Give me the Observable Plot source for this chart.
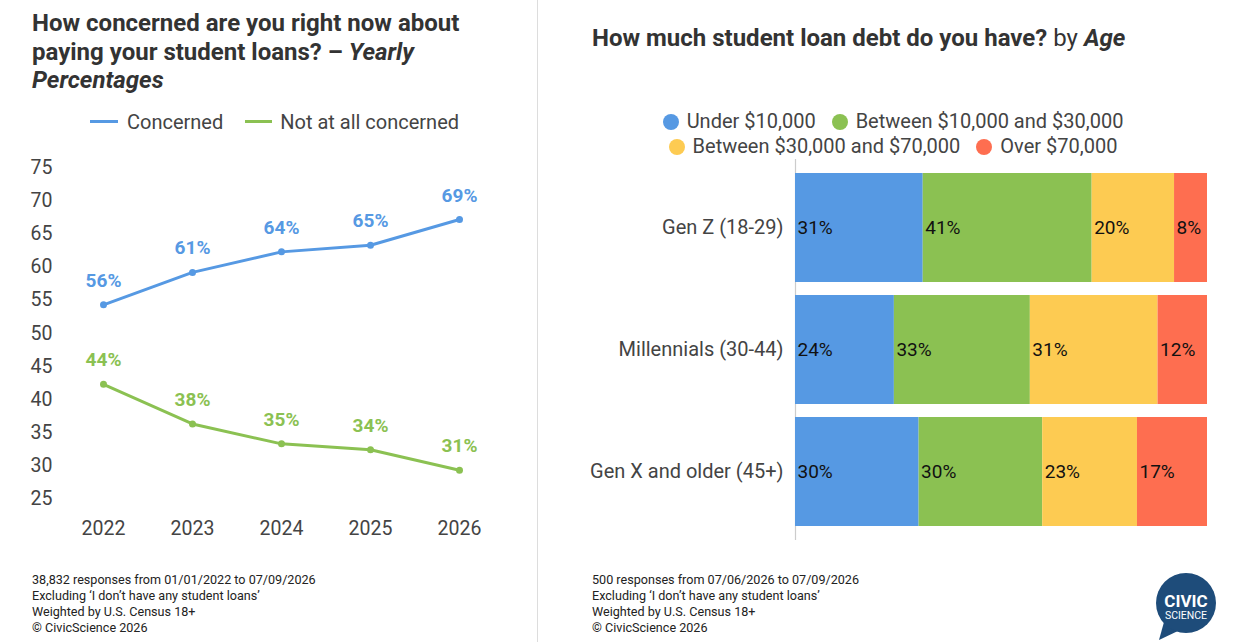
<!DOCTYPE html>
<html>
<head>
<meta charset="utf-8">
<script src="https://cdn.jsdelivr.net/npm/d3@7"></script>
<script src="https://cdn.jsdelivr.net/npm/@observablehq/plot@0.6"></script>
<style>
  html, body { margin: 0; padding: 0; background: #fff; }
  body { width: 1236px; height: 642px; position: relative; overflow: hidden; font-family: Roboto, "Noto Sans", sans-serif; }
  .abs { position: absolute; }
  .title { font-weight: 700; font-size: 24px; line-height: 28.5px; color: #333; }
  .legend { font-size: 20px; color: #444; white-space: nowrap; }
  .footer { font-size: 12.6px; line-height: 16px; color: #222; white-space: nowrap; }
  .sw { display: inline-block; width: 16px; height: 16px; border-radius: 50%; vertical-align: -2px; margin-right: 8px; }
  .item { display: inline-block; margin: 0 8px; }
</style>
</head>
<body>
<script>
// ---- Left chart data ----
const years = ["2022", "2023", "2024", "2025", "2026"];
const concerned = [54.3, 59.2, 62.3, 63.3, 67.2];
const notConcerned = [42.3, 36.3, 33.3, 32.4, 29.3];
const concernedLabels = ["56%", "61%", "64%", "65%", "69%"];
const notConcernedLabels = ["44%", "38%", "35%", "34%", "31%"];
const yTicks = [25, 30, 35, 40, 45, 50, 55, 60, 65, 70, 75];
const lineSeries = ["Concerned", "Not at all concerned"];

// ---- Right chart data ----
const groups = ["Gen Z (18-29)", "Millennials (30-44)", "Gen X and older (45+)"];
const debtCategories = ["Under $10,000", "Between $10,000 and $30,000", "Between $30,000 and $70,000", "Over $70,000"];
const under10k = [31, 24, 30];
const between10and30 = [41, 33, 30];
const between30and70 = [20, 31, 23];
const over70k = [8, 12, 17];

const BLUE = "#5699E3", GREEN = "#8BC152", YELLOW = "#FDCB52", RED = "#FE6E50";
const lineColors = [BLUE, GREEN];
const barColors = [BLUE, GREEN, YELLOW, RED];

// ---- Static layout ----
document.body.insertAdjacentHTML("beforeend", `
  <div class="abs title" style="left:32px;top:9px;">How concerned are you right now about<br>paying your student loans? – <i>Yearly<br>Percentages</i></div>
  <div class="abs title" style="left:592px;top:24px;white-space:nowrap;">How much student loan debt do you have? <span style="font-weight:400">by</span> <i>Age</i></div>
  <div class="abs" style="left:537px;top:0;width:1px;height:642px;background:#ddd;"></div>
  <div class="abs legend" style="left:90px;top:110px;">
    <span style="display:inline-block;width:28px;height:3px;background:${BLUE};vertical-align:6px;margin-right:9px;"></span>${lineSeries[0]}
    <span style="display:inline-block;width:27px;height:3px;background:${GREEN};vertical-align:6px;margin-left:17px;margin-right:8px;"></span>${lineSeries[1]}
  </div>
  <div class="abs legend" style="left:580px;top:109px;width:626px;text-align:center;line-height:25px;">
    <span class="item"><span class="sw" style="background:${barColors[0]}"></span>${debtCategories[0]}</span><span class="item"><span class="sw" style="background:${barColors[1]}"></span>${debtCategories[1]}</span><br>
    <span class="item"><span class="sw" style="background:${barColors[2]}"></span>${debtCategories[2]}</span><span class="item"><span class="sw" style="background:${barColors[3]}"></span>${debtCategories[3]}</span>
  </div>
  <div class="abs footer" style="left:32px;top:572px;">38,832 responses from 01/01/2022 to 07/09/2026<br>Excluding ‘I don’t have any student loans’<br>Weighted by U.S. Census 18+<br>© CivicScience 2026</div>
  <div class="abs footer" style="left:592px;top:572px;">500 responses from 07/06/2026 to 07/09/2026<br>Excluding ‘I don’t have any student loans’<br>Weighted by U.S. Census 18+<br>© CivicScience 2026</div>
  <svg class="abs" style="left:1150px;top:570px;" width="75" height="72" viewBox="0 0 75 72">
    <path d="M14 52 L9 70 L30 60 Z" fill="#1E4C7A"/>
    <circle cx="36" cy="33" r="30" fill="#1E4C7A"/>
    <text x="36" y="37" text-anchor="middle" fill="#fff" font-family="Roboto" font-weight="700" font-size="17">CIVIC</text>
    <text x="36" y="49" text-anchor="middle" fill="#fff" font-family="Roboto" font-size="10.5">SCIENCE</text>
  </svg>
`);

// ---- Left line chart ----
const lineData = [];
years.forEach((yr, i) => {
  lineData.push({year: yr, value: concerned[i], label: concernedLabels[i], series: lineSeries[0]});
});
years.forEach((yr, i) => {
  lineData.push({year: yr, value: notConcerned[i], label: notConcernedLabels[i], series: lineSeries[1]});
});

const left = Plot.plot({
  width: 500,
  height: 400,
  marginLeft: 55,
  marginTop: 17.3,
  marginBottom: 51.7,
  style: {fontFamily: "Roboto", fontSize: "19px", color: "#444", background: "transparent"},
  x: {type: "point", domain: years, range: [102.7, 459.3], padding: 0, axis: null},
  y: {domain: [25, 75], axis: null},
  color: {domain: lineSeries, range: lineColors},
  marks: [
    Plot.axisY({ticks: yTicks, tickSize: 0, tickPadding: 3, label: null, fontSize: 19.5}),
    Plot.axisX({tickSize: 0, tickPadding: 22, label: null, fontSize: 19.5}),
    Plot.line(lineData, {x: "year", y: "value", z: "series", stroke: "series", strokeWidth: 3}),
    Plot.dot(lineData, {x: "year", y: "value", fill: "series", r: 3.5}),
    Plot.text(lineData, {x: "year", y: "value", text: "label", fill: "series", dy: -24, fontWeight: 700, fontSize: 19})
  ]
});
left.style.position = "absolute";
left.style.left = "0px";
left.style.top = "150px";
document.body.appendChild(left);

// ---- Right stacked bar chart ----
const seriesValues = [under10k, between10and30, between30and70, over70k];
const barData = [];
groups.forEach((g, gi) => {
  debtCategories.forEach((c, ci) => {
    barData.push({group: g, category: c, value: seriesValues[ci][gi]});
  });
});

const right = Plot.plot({
  width: 656,
  height: 390,
  marginLeft: 215,
  marginRight: 29,
  marginTop: 4,
  marginBottom: 5,
  style: {fontFamily: "Roboto", fontSize: "20px", color: "#444", background: "transparent"},
  x: {domain: [0, 100], axis: null},
  y: {domain: groups, padding: 0.106, axis: null},
  color: {domain: debtCategories, range: barColors},
  marks: [
    Plot.ruleX([0], {stroke: "#ccc", strokeWidth: 1.2}),
    Plot.barX(barData, {x: "value", y: "group", fill: "category", order: debtCategories}),
    Plot.text(barData, Plot.stackX1({x: "value", y: "group", z: "category", order: debtCategories, text: d => d.value + "%", textAnchor: "start", dx: 2, fill: "#111", fontSize: 19})),
    Plot.axisY({tickSize: 0, tickPadding: 12, label: null, fontSize: 20})
  ]
});
right.style.position = "absolute";
right.style.left = "580px";
right.style.top = "155px";
document.body.appendChild(right);
</script>
</body>
</html>
